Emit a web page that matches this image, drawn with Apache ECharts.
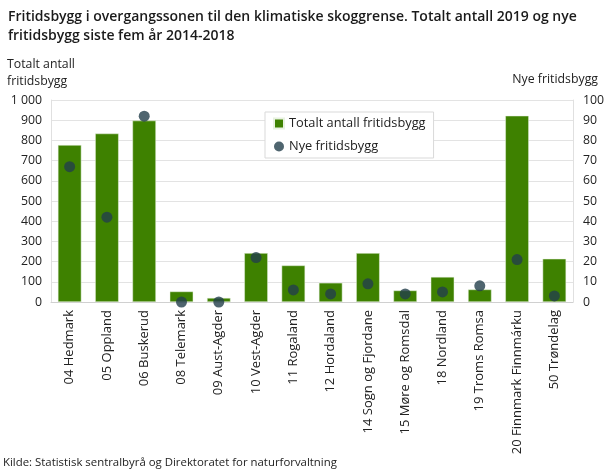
<!DOCTYPE html>
<html><head><meta charset="utf-8">
<script src="https://cdn.jsdelivr.net/npm/echarts@6/dist/echarts.min.js"></script>
<style>html,body{margin:0;padding:0;background:#fff}#c{width:610px;height:471px}</style>
</head><body><div id="c"></div>
<script>
const categories = ['04 Hedmark','05 Oppland','06 Buskerud','08 Telemark','09 Aust-Agder','10 Vest-Agder','11 Rogaland','12 Hordaland','14 Sogn og Fjordane','15 Møre og Romsdal','18 Nordland','19 Troms Romsa','20 Finnmark Finnmárku','50 Trøndelag'];
const totalt = [777, 834, 898, 52, 20, 242, 181, 95, 242, 57, 124, 62, 922, 214];
const nye = [67, 42, 92, 0, 0, 22, 6, 4, 9, 4, 5, 8, 21, 3];
const leftTicks = [0, 100, 200, 300, 400, 500, 600, 700, 800, 900, 1000];
const rightTicks = [0, 10, 20, 30, 40, 50, 60, 70, 80, 90, 100];

const font = '"Open Sans", sans-serif';
const chart = echarts.init(document.getElementById('c'), null, {renderer: 'canvas'});
chart.setOption({
  animation: false,
  textStyle: {fontFamily: font},
  title: {
    text: 'Fritidsbygg i overgangssonen til den klimatiske skoggrense. Totalt antall 2019 og nye\nfritidsbygg siste fem år 2014-2018',
    left: 3, top: 3,
    textStyle: {fontFamily: font, fontSize: 14, fontWeight: 600, color: '#1a1a1a', lineHeight: 19}
  },
  graphic: [
    {type: 'text', left: 7, top: 56, style: {text: 'Totalt antall\nfritidsbygg', font: '12.3px "Open Sans", sans-serif', fill: '#222', lineHeight: 17}},
    {type: 'text', right: 12, top: 73, style: {text: 'Nye fritidsbygg', font: '12.3px "Open Sans", sans-serif', fill: '#222', align: 'right'}},
    {type: 'text', left: 3, top: 457, style: {text: 'Kilde: Statistisk sentralbyrå og Direktoratet for naturforvaltning', font: '11.4px "Open Sans", sans-serif', fill: '#222'}}
  ],
  legend: {
    left: 265, top: 112, orient: 'vertical',
    itemGap: 10,
    padding: [5, 8, 5, 8],
    borderColor: '#d9d9d9', borderWidth: 1, backgroundColor: '#fff',
    itemWidth: 10, itemHeight: 10,
    textStyle: {fontFamily: font, fontSize: 12.8, color: '#222'},
    data: [{name: 'Totalt antall fritidsbygg', icon: 'rect'}, {name: 'Nye fritidsbygg', icon: 'circle'}]
  },
  grid: {left: 51, right: 37, top: 100, bottom: 169},
  xAxis: {
    type: 'category', data: categories,
    axisLine: {lineStyle: {color: '#d0d0d0'}},
    axisTick: {show: false},
    axisLabel: {rotate: 90, interval: 0, fontSize: 13, color: '#222', margin: 8}
  },
  yAxis: [
    {type: 'value', min: 0, max: 1000, interval: 100,
     axisLine: {show: true, lineStyle: {color: '#e0e0e0'}},
     splitLine: {lineStyle: {color: '#e3e3e3'}},
     axisLabel: {fontSize: 12.3, color: '#222', margin: 9,
       formatter: v => leftTicks.includes(v) ? String(v).replace(/\B(?=(\d{3})+(?!\d))/g, ' ') : ''}},
    {type: 'value', min: 0, max: 100, interval: 10,
     axisLine: {show: true, lineStyle: {color: '#e0e0e0'}},
     splitLine: {show: false},
     axisLabel: {fontSize: 12.3, color: '#222', margin: 10,
       formatter: v => rightTicks.includes(v) ? String(v) : ''}}
  ],
  series: [
    {name: 'Totalt antall fritidsbygg', type: 'bar', data: totalt, barWidth: '63%',
     itemStyle: {color: '#3e8100', borderColor: '#e8f2e0', borderWidth: 0.5}},
    {name: 'Nye fritidsbygg', type: 'scatter', yAxisIndex: 1, data: nye, symbolSize: 11,
     clip: false, itemStyle: {color: '#233f4b'}, z: 5}
  ]
});
</script></body></html>
